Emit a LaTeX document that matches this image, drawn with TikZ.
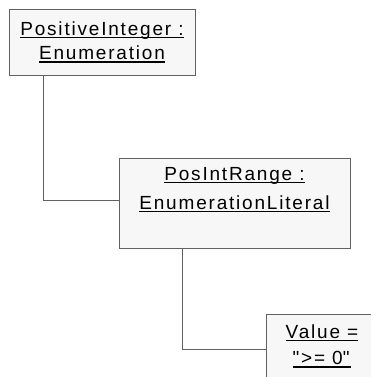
\documentclass[tikz,border=0pt]{standalone}
\usepackage{fontspec}
\setmainfont{Liberation Sans}[LetterSpace=9.5]
% underlined text: the rule sits a little below the baseline
\newcommand\ulin[1]{\setbox0=\hbox{#1}\leavevmode\rlap{\copy0}\rule[-2.6pt]{\wd0}{1.2pt}}
% straight double quote, set as the glyph itself
\newcommand\sq{\XeTeXglyph\XeTeXcharglyph"22\kern0.095em}
\tikzset{
  objbox/.style={draw=black!62, fill=black!3, line width=1pt, anchor=north west, inner sep=0pt},
  objtext/.style={anchor=north, align=center, inner sep=0pt, font=\fontsize{19}{24.5}\selectfont},
  link/.style={draw=black!62, line width=1pt},
}
\begin{document}
\begin{tikzpicture}[x=1pt, y=-1pt]
  \useasboundingbox (0,0) rectangle (371,377);
  \clip (0,0) rectangle (371,377);
  % object boxes
  \node[objbox, minimum width=186pt, minimum height=66pt] (pi) at (9,9) {};
  \node[objbox, minimum width=231pt, minimum height=90pt] (pr) at (119,158) {};
  \node[objbox, minimum width=112pt, minimum height=90pt] (val) at (266,314) {};
  % object names
  \node[objtext] (pitext) at (102,21.5) {\ulin{PositiveInteger :}\\\ulin{Enumeration}};
  \node[objtext, font=\fontsize{19}{29}\selectfont] (prtext) at (234.5,167.5) {\ulin{PosIntRange :}\\\ulin{EnumerationLiteral}};
  \node[objtext, font=\fontsize{19}{26.5}\selectfont] (valtext) at (322,324.5) {\ulin{Value =}\\\ulin{\sq{>}= 0\sq}};
  % links between the objects
  \coordinate (c1) at (43,200);
  \coordinate (c2) at (182,349);
  \draw[link] (pi.south west -| c1) -- (c1) -- (c1 -| pr.west);
  \draw[link] (pr.south west -| c2) -- (c2) -- (c2 -| val.west);
\end{tikzpicture}
\end{document}
